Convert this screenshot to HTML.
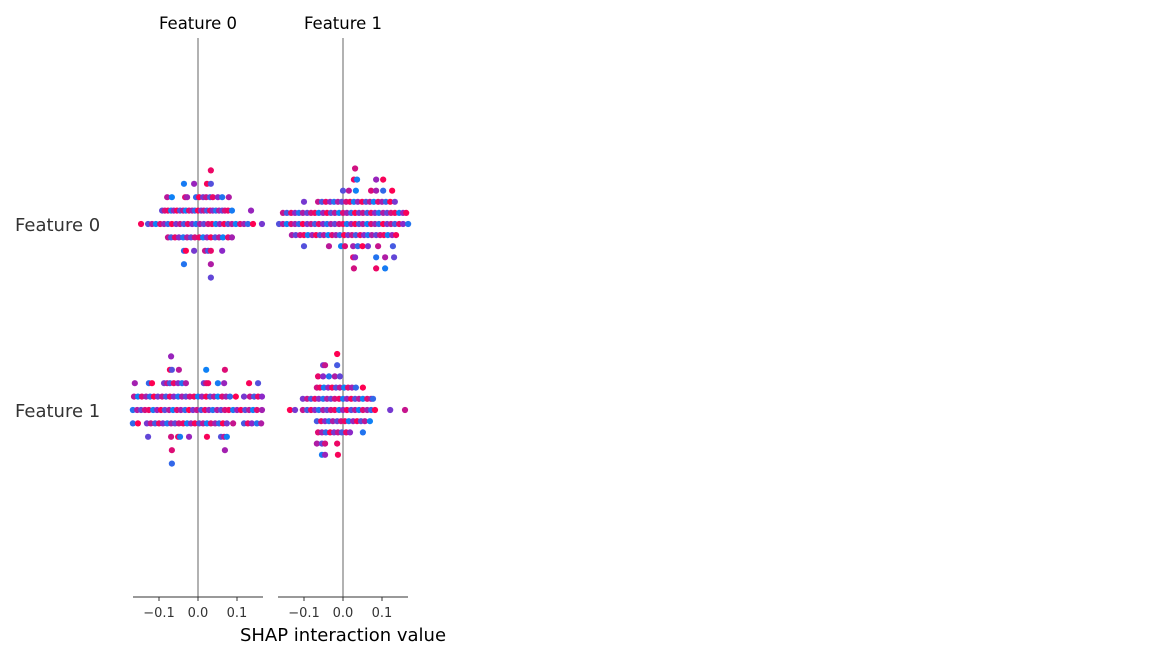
<!DOCTYPE html>
<html><head><meta charset="utf-8"><style>
body{margin:0;background:#fff;width:1150px;height:660px;overflow:hidden}
svg{font-family:"DejaVu Sans","Liberation Sans",sans-serif}
</style></head><body>
<svg id="c" width="1150" height="660"></svg>
<script>
// ---- data ----
const features = ["Feature 0", "Feature 1"];
const xTicks = [-0.1, 0.0, 0.1];
const xTickLabels = ["\u22120.1", "0.0", "0.1"];
const featureVals = [0.92,0.08,0.55,0.97,0.3,0.7,0.05,0.85,0.6,0.18,1,0.42,0.75,0.25,0.9,0.5,0.12,0.65,0.35,0.8];
const p00Start = -4;
const p00 = [
 [0.033],
 [-0.036,-0.010,0.023,0.033],
 [-0.079,-0.067,-0.033,-0.028,-0.005,0.003,0.013,0.021,0.031,0.038,0.051,0.062,0.079],
 [-0.092,-0.085,-0.077,-0.069,-0.062,-0.054,-0.046,-0.038,-0.031,-0.023,-0.015,-0.008,0,0.008,0.015,0.023,0.031,0.038,0.046,0.054,0.062,0.069,0.077,0.087,0.136],
 [-0.146,-0.128,-0.118,-0.108,-0.097,-0.087,-0.077,-0.067,-0.056,-0.046,-0.036,-0.026,-0.015,-0.005,0.005,0.015,0.026,0.036,0.046,0.056,0.067,0.077,0.087,0.097,0.108,0.118,0.128,0.141,0.164],
 [-0.077,-0.069,-0.059,-0.049,-0.038,-0.028,-0.018,-0.008,0.003,0.013,0.023,0.033,0.044,0.054,0.064,0.077,0.087],
 [-0.036,-0.031,-0.010,0.018,0.026,0.033,0.062],
 [-0.036,0.033],
 [0.033]
];
const p01Start = -5;
const p01 = [
 [0.031],
 [0.028,0.036,0.085,0.103],
 [0,0.015,0.033,0.072,0.085,0.103,0.126],
 [-0.1,-0.064,-0.054,-0.044,-0.033,-0.023,-0.013,-0.003,0.008,0.018,0.028,0.038,0.049,0.059,0.069,0.079,0.09,0.1,0.11,0.121,0.133],
 [-0.154,-0.144,-0.133,-0.123,-0.113,-0.103,-0.092,-0.082,-0.072,-0.062,-0.051,-0.041,-0.031,-0.021,-0.01,0,0.01,0.021,0.031,0.041,0.051,0.062,0.072,0.082,0.092,0.103,0.113,0.123,0.133,0.144,0.154,0.162],
 [-0.164,-0.154,-0.144,-0.133,-0.123,-0.113,-0.103,-0.092,-0.082,-0.072,-0.062,-0.051,-0.041,-0.031,-0.021,-0.01,0,0.01,0.021,0.031,0.041,0.051,0.062,0.072,0.082,0.092,0.103,0.113,0.123,0.133,0.144,0.154,0.167],
 [-0.131,-0.121,-0.11,-0.1,-0.09,-0.079,-0.069,-0.059,-0.049,-0.038,-0.028,-0.018,-0.008,0.003,0.013,0.023,0.033,0.044,0.054,0.064,0.074,0.085,0.095,0.105,0.115,0.126,0.136],
 [-0.1,-0.036,-0.005,0.005,0.026,0.038,0.05,0.064,0.09,0.128],
 [0.026,0.031,0.085,0.108,0.131],
 [0.028,0.085,0.108]
];
const p10Start = -4;
const p10 = [
 [-0.069],
 [-0.072,-0.067,-0.049,0.021,0.069],
 [-0.162,-0.126,-0.118,-0.087,-0.079,-0.072,-0.062,-0.051,-0.041,-0.031,0.015,0.021,0.026,0.051,0.067,0.131,0.154],
 [-0.164,-0.154,-0.144,-0.133,-0.123,-0.113,-0.103,-0.092,-0.082,-0.072,-0.062,-0.051,-0.041,-0.031,-0.021,-0.01,0,0.01,0.021,0.031,0.041,0.051,0.062,0.072,0.082,0.097,0.118,0.133,0.144,0.154,0.164],
 [-0.167,-0.156,-0.146,-0.136,-0.126,-0.115,-0.105,-0.095,-0.085,-0.074,-0.064,-0.054,-0.044,-0.033,-0.023,-0.013,-0.003,0.008,0.018,0.028,0.038,0.049,0.059,0.069,0.079,0.09,0.1,0.11,0.121,0.131,0.141,0.151,0.164],
 [-0.167,-0.154,-0.131,-0.121,-0.11,-0.1,-0.09,-0.079,-0.069,-0.059,-0.049,-0.038,-0.028,-0.018,-0.008,0.003,0.013,0.023,0.033,0.044,0.054,0.064,0.074,0.09,0.118,0.128,0.138,0.151,0.162],
 [-0.128,-0.069,-0.051,-0.046,-0.023,0.023,0.059,0.067,0.074],
 [-0.067,0.069],
 [-0.067]
];
const p11Start = -5;
const p11 = [
 [-0.015],
 [-0.051,-0.046,-0.015],
 [-0.064,-0.051,-0.036,-0.021,-0.008],
 [-0.067,-0.059,-0.049,-0.038,-0.028,-0.018,-0.008,0.003,0.013,0.023,0.033,0.051],
 [-0.103,-0.092,-0.082,-0.072,-0.062,-0.051,-0.041,-0.031,-0.021,-0.01,0,0.01,0.021,0.031,0.041,0.051,0.062,0.072,0.077],
 [-0.136,-0.123,-0.103,-0.092,-0.082,-0.072,-0.062,-0.051,-0.041,-0.031,-0.021,-0.01,0,0.01,0.021,0.031,0.041,0.051,0.062,0.072,0.082,0.121,0.159],
 [-0.067,-0.056,-0.046,-0.036,-0.026,-0.015,-0.005,0.005,0.015,0.026,0.036,0.046,0.056,0.069],
 [-0.064,-0.054,-0.044,-0.033,-0.023,-0.013,-0.003,0.008,0.018,0.051],
 [-0.067,-0.054,-0.046,-0.015],
 [-0.054,-0.046,-0.013]
];

// ---- layout ----
const NS = "http://www.w3.org/2000/svg";
const svg = document.getElementById("c");
const colX0 = [198, 343];
const pxPerUnit = 390;
const halfW = 65;
const rowY = [224, 410];
const axisY = 597;
function xScale(col, v){ return colX0[col] + v * pxPerUnit; }
function color(t){
  let a, b, u;
  const lo=[0,139,251], mid=[140,40,200], hi=[255,0,82];
  if (t < 0.5){ a=lo; b=mid; u=t/0.5; } else { a=mid; b=hi; u=(t-0.5)/0.5; }
  return `rgb(${a.map((c,i)=>Math.round(c+(b[i]-c)*u)).join(",")})`;
}
function mk(tag, attrs, text){
  const e = document.createElementNS(NS, tag);
  for (const k in attrs) e.setAttribute(k, attrs[k]);
  if (text !== undefined) e.textContent = text;
  svg.appendChild(e);
  return e;
}

for (let c=0;c<2;c++){
  const z = mk("line",{x1:xScale(c,0),x2:xScale(c,0),y1:38,y2:axisY,stroke:"#999","stroke-width":1.5});
  
  
  const ax = mk("line",{x1:colX0[c]-halfW,x2:colX0[c]+halfW,y1:axisY,y2:axisY,stroke:"#333","stroke-width":1});
  
  
  xTicks.forEach((t,i)=>{
    const tk = mk("line",{x1:xScale(c,t),x2:xScale(c,t),y1:axisY,y2:axisY+4,stroke:"#333"});
    
    
    const tl = mk("text",{x:xScale(c,t),y:axisY+20,"text-anchor":"middle","font-size":13,fill:"#333"}, xTickLabels[i]);
    
    
  });
  const tt = mk("text",{x:colX0[c],y:29,"text-anchor":"middle","font-size":16.5,fill:"#000"}, features[c]);
  
  
}
for (let r=0;r<2;r++){
  const yl = mk("text",{x:15,y:rowY[r]+7,"font-size":18,fill:"#333"}, features[r]);
  
  
}
const xl = mk("text",{x:343,y:641,"text-anchor":"middle","font-size":18,fill:"#000"}, "SHAP interaction value");



const panels = [
 {rows:p00,start:p00Start,r:0,c:0,sp:13.4},
 {rows:p01,start:p01Start,r:0,c:1,sp:11.1},
 {rows:p10,start:p10Start,r:1,c:0,sp:13.4},
 {rows:p11,start:p11Start,r:1,c:1,sp:11.2}
];
let k = 0;
panels.forEach(p=>{
  p.rows.forEach((vals,ri)=>{
    const y = rowY[p.r] + (p.start+ri)*p.sp;
    vals.forEach(v=>{
      const d = mk("circle",{cx:xScale(p.c,v),cy:y,r:3.1,fill:color(featureVals[k%featureVals.length])});
      
      
      k++;
    });
  });
});
</script>
</body></html>
